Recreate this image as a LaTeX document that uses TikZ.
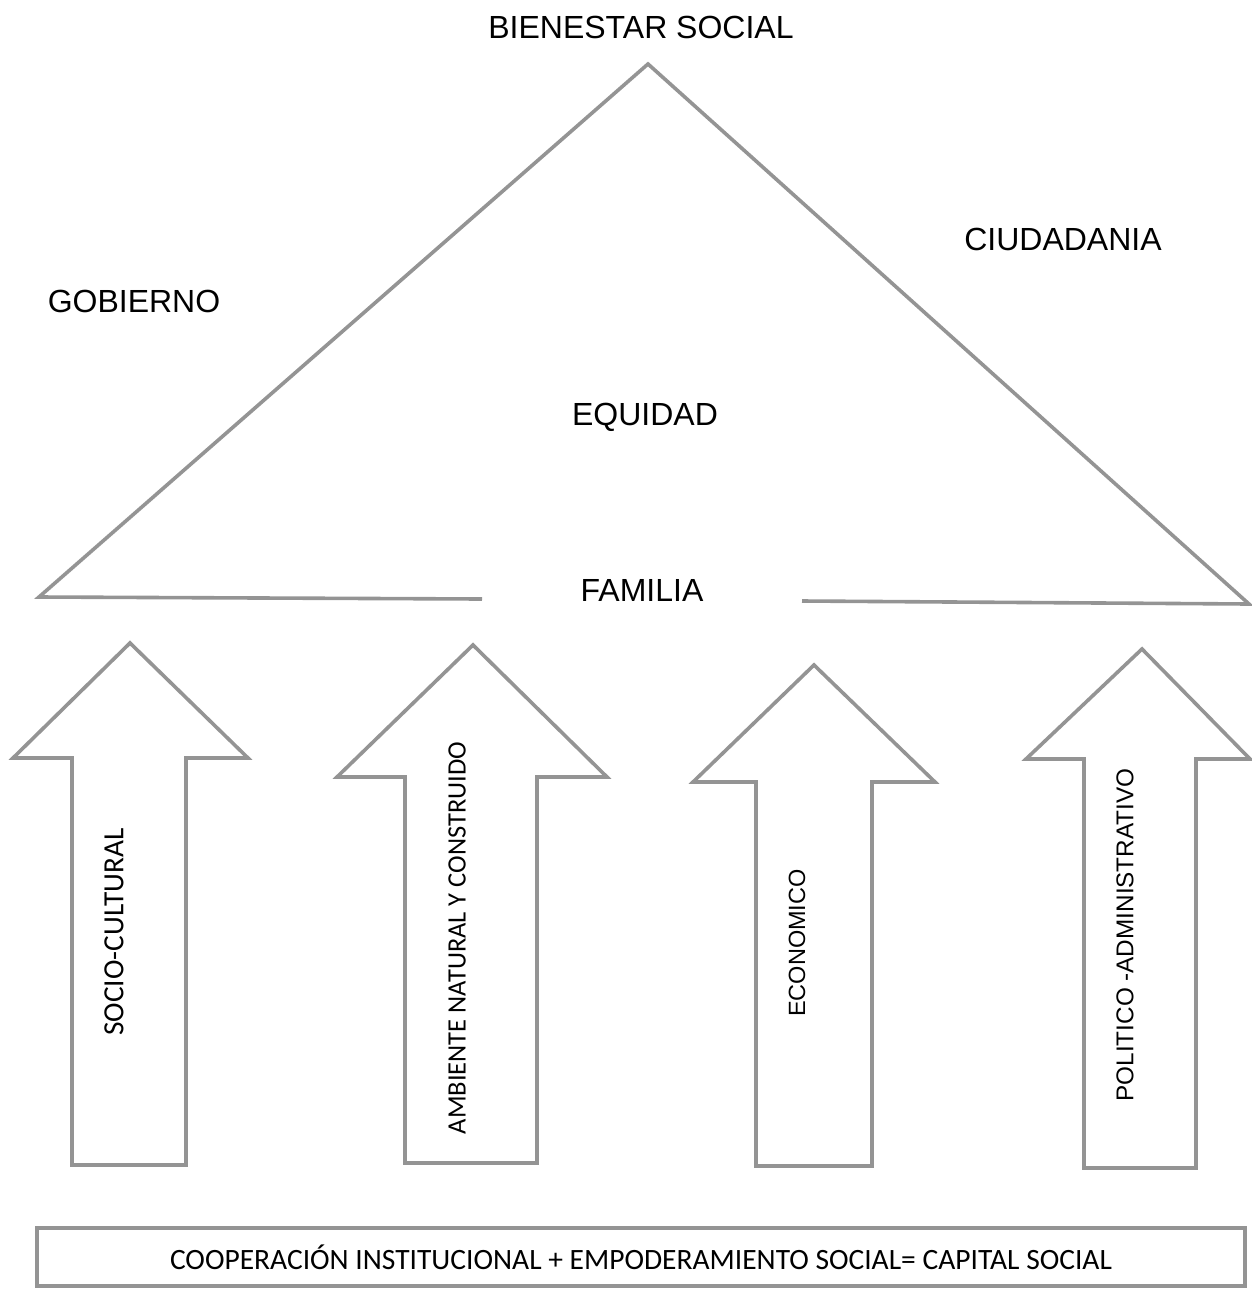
\documentclass[tikz,border=0pt]{standalone}
\usepackage{fontspec}
\setmainfont{Liberation Sans}
\newfontfamily\calib{Carlito}
\begin{document}
\begin{tikzpicture}[x=1pt,y=-1pt,
  outl/.style={draw=black!42,line width=3.6pt,line join=miter},
  lbl/.style={inner sep=0pt,font=\fontsize{32}{38}\selectfont},
  vlbl/.style={inner sep=0pt,rotate=90},
  arrowshape/.style={outl}]
\useasboundingbox (0,0) rectangle (1251,1291);
% triangle
\coordinate (apex) at (648,64);
\coordinate (bl) at (39,597);
\coordinate (br) at (1249,604);
\coordinate (gl) at (482,599);
\coordinate (gr) at (802,601);
\draw[outl] (gl) -- (bl) -- (apex) -- (br) -- (gr);
% texts
\node[lbl] (bien) at (641,27) {BIENESTAR SOCIAL};
\node[lbl] (gob) at (134,301) {GOBIERNO};
\node[lbl] (ciu) at (1063,239) {CIUDADANIA};
\node[lbl] (equi) at (645,417) {EQUIDAD};
\node[lbl] (fam) at (642,590) {FAMILIA};
% arrows
\draw[arrowshape] (130,643) -- (248,758) -- (186,758) -- (186,1165) -- (72,1165) -- (72,758) -- (13,758) -- cycle;
\draw[arrowshape] (473,645) -- (607,777) -- (537,777) -- (537,1163) -- (405,1163) -- (405,777) -- (337,777) -- cycle;
\draw[arrowshape] (814,665) -- (935,782) -- (872,782) -- (872,1166) -- (756,1166) -- (756,782) -- (693,782) -- cycle;
\draw[arrowshape] (1142,649) -- (1250,759) -- (1196,759) -- (1196,1168) -- (1084,1168) -- (1084,759) -- (1026,759) -- cycle;
\node[vlbl,font=\calib\fontsize{29.3}{34}\selectfont] (soc) at (114,932) {SOCIO-CULTURAL};
\node[vlbl,font=\calib\fontsize{26.5}{32}\selectfont] (amb) at (457,938) {AMBIENTE NATURAL Y CONSTRUIDO};
\node[vlbl,font=\fontsize{23.5}{28}\selectfont] (eco) at (797,943) {ECONOMICO};
\node[vlbl,font=\fontsize{24.3}{29}\selectfont] (pol) at (1125,935) {POLITICO -ADMINISTRATIVO};
% bottom box
\node[draw=black!42,line width=3.6pt,minimum width=1208pt,minimum height=58pt,inner sep=0pt,
  font=\calib\fontsize{29.5}{35}\selectfont] (cap) at (641,1257) {COOPERACIÓN INSTITUCIONAL + EMPODERAMIENTO SOCIAL= CAPITAL SOCIAL};
\end{tikzpicture}
\end{document}
